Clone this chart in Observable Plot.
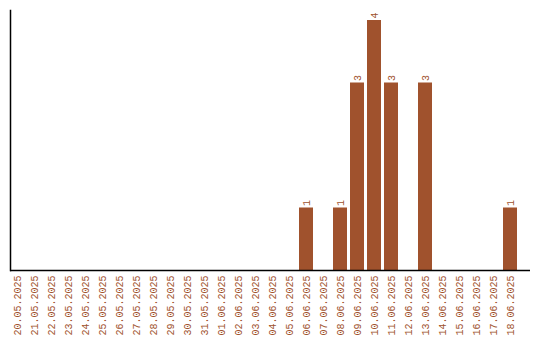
<!DOCTYPE html>
<html>
<head>
<meta charset="utf-8">
<script src="https://cdn.jsdelivr.net/npm/d3@7"></script>
<script src="https://cdn.jsdelivr.net/npm/@observablehq/plot@0.6"></script>
<style>
  body { margin: 0; background: #fff; }
</style>
</head>
<body>
<div id="chart"></div>
<script>
const dates = [
  "20.05.2025","21.05.2025","22.05.2025","23.05.2025","24.05.2025","25.05.2025",
  "26.05.2025","27.05.2025","28.05.2025","29.05.2025","30.05.2025","31.05.2025",
  "01.06.2025","02.06.2025","03.06.2025","04.06.2025","05.06.2025","06.06.2025",
  "07.06.2025","08.06.2025","09.06.2025","10.06.2025","11.06.2025","12.06.2025",
  "13.06.2025","14.06.2025","15.06.2025","16.06.2025","17.06.2025","18.06.2025"
];
const counts = [
  0,0,0,0,0,0,
  0,0,0,0,0,0,
  0,0,0,0,0,1,
  0,1,3,4,3,0,
  3,0,0,0,0,1
];
const data = dates.map((d, i) => ({date: d, count: counts[i]}));
const nonzero = data.filter(d => d.count > 0);
const color = "#A0522D";

const chart = Plot.plot({
  width: 540,
  height: 340,
  marginLeft: 10,
  marginRight: 10,
  marginTop: 10,
  marginBottom: 70,
  style: {fontFamily: "'Liberation Mono', monospace", fontSize: "10px", background: "#fff"},
  x: {domain: dates, range: [10, 517], paddingInner: 3/17, paddingOuter: 0, label: null},
  y: {domain: [0, 4.16], axis: null},
  marks: [
    Plot.barY(data, {x: "date", y: "count", fill: color}),
    Plot.text(nonzero, {x: "date", y: "count", text: d => String(d.count), rotate: -90, textAnchor: "start", dy: -2, fill: color, fontSize: 10}),
    Plot.axisX({tickSize: 0, tickPadding: 5, tickRotate: -90, fill: color, label: null, fontSize: 10}),
    Plot.ruleY([0], {stroke: "#000", strokeWidth: 1.5}),
    Plot.frame({anchor: "left", stroke: "#000", strokeWidth: 1.5})
  ]
});
document.getElementById("chart").appendChild(chart);
</script>
</body>
</html>
